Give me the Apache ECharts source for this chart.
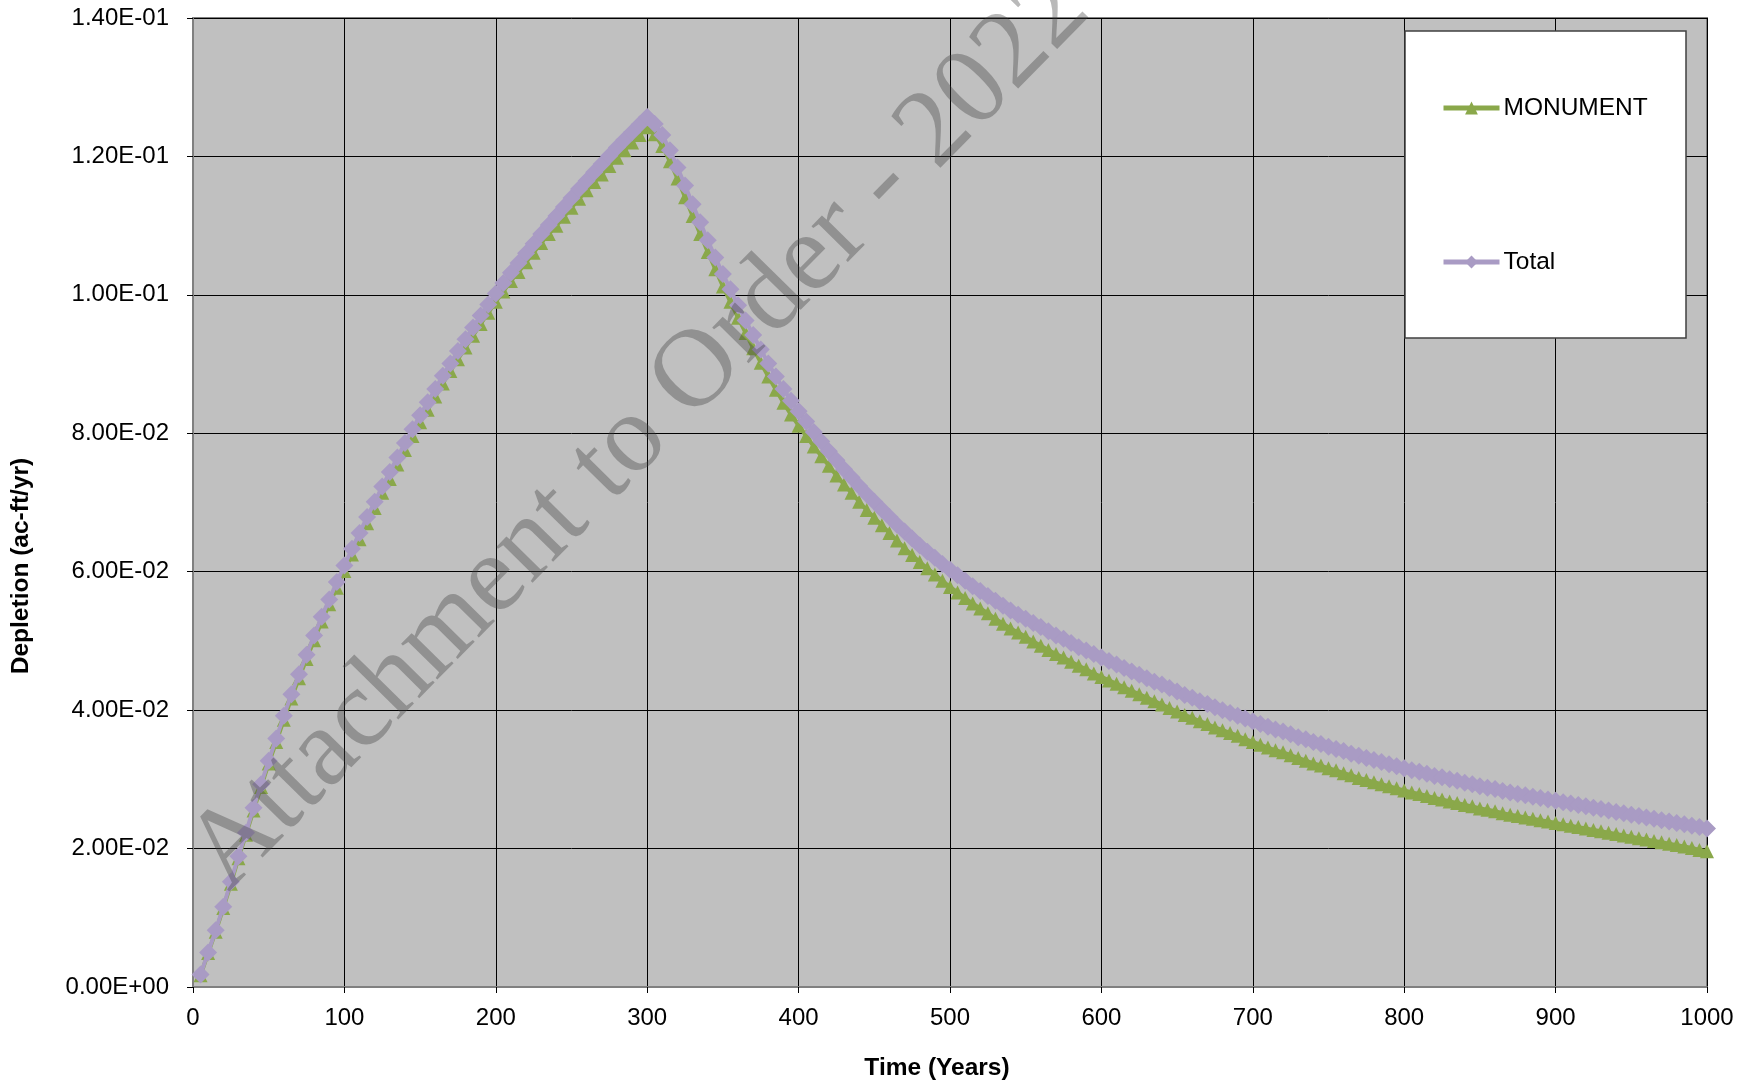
<!DOCTYPE html>
<html>
<head>
<meta charset="utf-8">
<script src="https://cdn.jsdelivr.net/npm/echarts@6/dist/echarts.min.js"></script>
<style>html,body{margin:0;padding:0;background:#fff}#c{width:1754px;height:1086px}</style>
</head>
<body>
<div id="c"></div>
<script>
// Time steps (years)
const years = [
  5,10,15,20,25,30,35,40,45,50,55,60,65,70,75,80,85,90,95,100,
  105,110,115,120,125,130,135,140,145,150,155,160,165,170,175,180,185,190,195,200,
  205,210,215,220,225,230,235,240,245,250,255,260,265,270,275,280,285,290,295,300,
  305,310,315,320,325,330,335,340,345,350,355,360,365,370,375,380,385,390,395,400,
  405,410,415,420,425,430,435,440,445,450,455,460,465,470,475,480,485,490,495,500,
  505,510,515,520,525,530,535,540,545,550,555,560,565,570,575,580,585,590,595,600,
  605,610,615,620,625,630,635,640,645,650,655,660,665,670,675,680,685,690,695,700,
  705,710,715,720,725,730,735,740,745,750,755,760,765,770,775,780,785,790,795,800,
  805,810,815,820,825,830,835,840,845,850,855,860,865,870,875,880,885,890,895,900,
  905,910,915,920,925,930,935,940,945,950,955,960,965,970,975,980,985,990,995,1000
];

// MONUMENT depletion (ac-ft/yr)
const monument = [
  0.0017,0.0049,0.0080,0.0114,0.0149,0.0186,0.0220,0.0255,0.0289,0.0323,
  0.0354,0.0386,0.0417,0.0446,0.0474,0.0501,0.0528,0.0553,0.0577,0.0601,
  0.0625,0.0647,0.0670,0.0692,0.0714,0.0734,0.0755,0.0776,0.0796,0.0816,
  0.0834,0.0853,0.0872,0.0890,0.0907,0.0924,0.0941,0.0958,0.0974,0.0990,
  0.1005,0.1020,0.1033,0.1047,0.1061,0.1075,0.1088,0.1100,0.1113,0.1126,
  0.1139,0.1151,0.1163,0.1174,0.1186,0.1198,0.1209,0.1220,0.1231,0.1242,
  0.1232,0.1215,0.1193,0.1168,0.1141,0.1114,0.1088,0.1062,0.1037,0.1012,
  0.0990,0.0967,0.0945,0.0923,0.0902,0.0882,0.0863,0.0844,0.0827,0.0811,
  0.0796,0.0781,0.0767,0.0753,0.0739,0.0726,0.0714,0.0701,0.0689,0.0678,
  0.0667,0.0656,0.0645,0.0634,0.0624,0.0614,0.0605,0.0596,0.0587,0.0578,
  0.0570,0.0562,0.0554,0.0547,0.0540,0.0532,0.0525,0.0518,0.0512,0.0506,
  0.0499,0.0493,0.0487,0.0481,0.0476,0.0470,0.0464,0.0459,0.0453,0.0448,
  0.0443,0.0438,0.0433,0.0428,0.0423,0.0418,0.0413,0.0408,0.0403,0.0398,
  0.0393,0.0389,0.0384,0.0380,0.0375,0.0371,0.0367,0.0363,0.0358,0.0354,
  0.0350,0.0346,0.0342,0.0339,0.0335,0.0331,0.0327,0.0323,0.0320,0.0316,
  0.0313,0.0309,0.0306,0.0302,0.0299,0.0296,0.0293,0.0290,0.0287,0.0284,
  0.0281,0.0279,0.0276,0.0273,0.0271,0.0268,0.0266,0.0263,0.0261,0.0258,
  0.0256,0.0254,0.0251,0.0249,0.0247,0.0245,0.0243,0.0241,0.0239,0.0237,
  0.0235,0.0233,0.0231,0.0229,0.0227,0.0225,0.0223,0.0221,0.0219,0.0217,
  0.0215,0.0213,0.0211,0.0209,0.0207,0.0205,0.0203,0.0201,0.0198,0.0196
];

// Total depletion (ac-ft/yr)
const total = [
  0.0018,0.0050,0.0082,0.0116,0.0152,0.0189,0.0223,0.0259,0.0293,0.0327,
  0.0359,0.0392,0.0423,0.0452,0.0480,0.0508,0.0535,0.0560,0.0585,0.0609,
  0.0633,0.0656,0.0679,0.0701,0.0723,0.0744,0.0765,0.0786,0.0806,0.0826,
  0.0845,0.0864,0.0883,0.0901,0.0919,0.0936,0.0953,0.0970,0.0986,0.1002,
  0.1017,0.1032,0.1046,0.1060,0.1074,0.1088,0.1101,0.1114,0.1127,0.1140,
  0.1153,0.1165,0.1177,0.1189,0.1201,0.1213,0.1224,0.1235,0.1246,0.1257,
  0.1247,0.1231,0.1209,0.1184,0.1158,0.1131,0.1105,0.1079,0.1054,0.1030,
  0.1008,0.0985,0.0963,0.0942,0.0921,0.0901,0.0882,0.0864,0.0847,0.0832,
  0.0817,0.0802,0.0788,0.0774,0.0761,0.0748,0.0736,0.0724,0.0712,0.0701,
  0.0690,0.0679,0.0668,0.0658,0.0648,0.0638,0.0629,0.0620,0.0611,0.0603,
  0.0595,0.0587,0.0579,0.0572,0.0565,0.0558,0.0551,0.0544,0.0538,0.0532,
  0.0526,0.0520,0.0514,0.0508,0.0503,0.0497,0.0491,0.0486,0.0481,0.0476,
  0.0471,0.0466,0.0461,0.0456,0.0451,0.0446,0.0441,0.0437,0.0432,0.0427,
  0.0422,0.0418,0.0413,0.0409,0.0404,0.0400,0.0396,0.0392,0.0388,0.0384,
  0.0380,0.0376,0.0372,0.0369,0.0365,0.0361,0.0358,0.0354,0.0351,0.0347,
  0.0344,0.0341,0.0337,0.0334,0.0331,0.0328,0.0325,0.0322,0.0319,0.0316,
  0.0313,0.0311,0.0308,0.0305,0.0303,0.0300,0.0298,0.0295,0.0293,0.0290,
  0.0288,0.0286,0.0283,0.0281,0.0279,0.0277,0.0275,0.0273,0.0271,0.0269,
  0.0267,0.0265,0.0263,0.0261,0.0259,0.0257,0.0255,0.0253,0.0251,0.0249,
  0.0247,0.0245,0.0243,0.0241,0.0239,0.0237,0.0235,0.0233,0.0231,0.0229
];

const seriesNames = ['MONUMENT', 'Total'];
const xTitle = 'Time (Years)';
const yTitle = 'Depletion (ac-ft/yr)';
const watermark = 'Attachment to Order - 2022';

function sci(v) {
  if (Math.abs(v) < 1e-12) return '0.00E+00';
  let e = Math.floor(Math.log10(Math.abs(v)));
  let m = v / Math.pow(10, e);
  if (Math.round(m * 100) / 100 >= 10) { m /= 10; e += 1; }
  return m.toFixed(2) + 'E' + (e < 0 ? '-' : '+') + String(Math.abs(e)).padStart(2, '0');
}

const pair = arr => years.map((x, i) => [x, arr[i]]);
const FONT = '"Liberation Sans", Arial, sans-serif';
const GREEN = '#8AA84A';
const PURPLE = '#A99BC4';

const chart = echarts.init(document.getElementById('c'), null, { renderer: 'canvas' });
chart.setOption({
  animation: false,
  backgroundColor: '#ffffff',
  grid: {
    left: 193, right: 47, top: 18, bottom: 99,
    containLabel: false, outerBoundsMode: 'none',
    show: true, backgroundColor: '#C0C0C0', borderColor: '#808080', borderWidth: 2
  },
  xAxis: {
    type: 'value', min: 0, max: 1000, interval: 100,
    axisLine: { show: true, lineStyle: { color: '#808080', width: 2 } },
    axisTick: { show: true, length: 6, lineStyle: { color: '#000', width: 1 } },
    axisLabel: { color: '#000', fontSize: 24, fontFamily: FONT, margin: 19, formatter: v => String(v) },
    splitLine: { show: true, lineStyle: { color: '#000', width: 1 } }
  },
  yAxis: {
    type: 'value', min: 0, max: 0.14, interval: 0.02,
    axisLine: { show: true, lineStyle: { color: '#808080', width: 2 } },
    axisTick: { show: true, length: 6, lineStyle: { color: '#000', width: 1 } },
    axisLabel: { color: '#000', fontSize: 24, fontFamily: FONT, margin: 24, formatter: sci },
    splitLine: { show: true, lineStyle: { color: '#000', width: 1 } }
  },
  legend: {
    orient: 'vertical', left: 1441, top: 95, padding: 0,
    itemWidth: 56, itemHeight: 16, itemGap: 128,
    lineStyle: { width: 5 },
    textStyle: { color: '#000', fontSize: 24.5, fontFamily: FONT, lineHeight: 26, padding: [0, 0, 0, -1] },
    data: seriesNames, z: 6
  },
  graphic: [
    { type: 'rect', z: 5, silent: true,
      shape: { x: 1405, y: 31, width: 281, height: 307 },
      style: { fill: '#ffffff', stroke: '#404040', lineWidth: 1.5 } },
    { type: 'text', z: 10, silent: true, x: 937, y: 1068,
      style: { text: xTitle, font: 'bold 24.5px ' + FONT, fill: '#000', align: 'center', verticalAlign: 'middle' } },
    { type: 'text', z: 10, silent: true, x: 21, y: 566, rotation: Math.PI / 2,
      style: { text: yTitle, font: 'bold 24.5px ' + FONT, fill: '#000', align: 'center', verticalAlign: 'middle' } },
    { type: 'text', z: 20, silent: true, x: 168, y: 833, rotation: 45.5 * Math.PI / 180,
      style: { text: watermark, font: '111px "Liberation Serif", "Times New Roman", serif', fill: 'rgba(60,60,60,0.36)', align: 'left', verticalAlign: 'alphabetic' } }
  ],
  series: [
    { name: seriesNames[0], type: 'line', data: pair(monument),
      symbol: 'triangle', symbolSize: [14, 14], showSymbol: true,
      lineStyle: { color: GREEN, width: 4 }, itemStyle: { color: GREEN, borderWidth: 0 },
      emphasis: { disabled: true }, z: 2 },
    { name: seriesNames[1], type: 'line', data: pair(total),
      symbol: 'diamond', symbolSize: 18, showSymbol: true,
      lineStyle: { color: PURPLE, width: 4 }, itemStyle: { color: PURPLE, borderWidth: 0 },
      emphasis: { disabled: true }, z: 3 }
  ]
});
</script>
</body>
</html>
